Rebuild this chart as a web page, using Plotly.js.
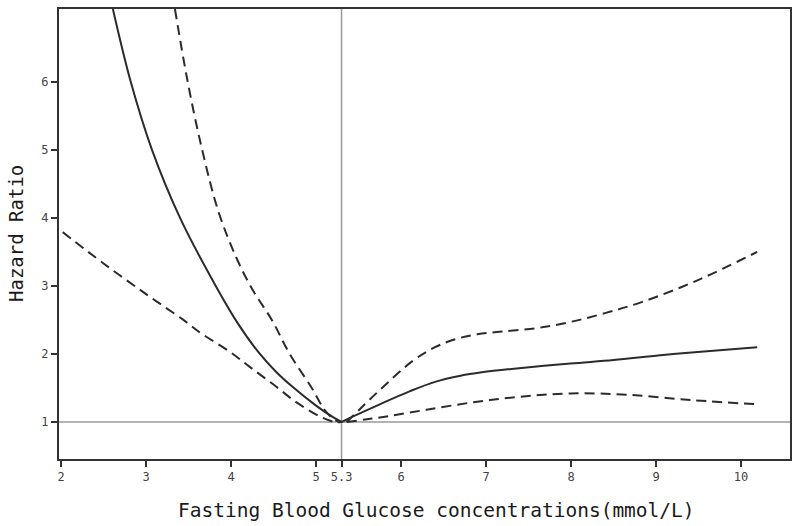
<!DOCTYPE html>
<html>
<head>
<meta charset="utf-8">
<script src="https://cdn.plot.ly/plotly-3.0.1.min.js"></script>
<style>html,body{margin:0;padding:0;background:#fff}#chart{width:800px;height:526px}</style>
</head>
<body>
<div id="chart"></div>
<script>
// Left branch (below reference 5.3)
const hrLeftX    = [2.61, 2.82, 3.07, 3.40, 3.82, 4.08, 4.32, 4.52, 4.72, 5.0, 5.2, 5.3];
const hrLeftY    = [7.07, 6.0, 5.0, 4.0, 3.0, 2.45, 2.03, 1.75, 1.52, 1.24, 1.07, 1.0];
const upLeftX    = [3.34, 3.49, 3.66, 3.85, 4.05, 4.25, 4.48, 4.69, 4.95, 5.1, 5.22, 5.3];
const upLeftY    = [7.07, 6.0, 5.0, 4.1, 3.45, 2.95, 2.5, 2.0, 1.5, 1.18, 1.03, 1.0];
const loLeftX    = [2.02, 2.5, 3.0, 3.44, 3.64, 4.0, 4.22, 4.5, 4.78, 5.08, 5.22, 5.3];
const loLeftY    = [3.79, 3.33, 2.88, 2.5, 2.31, 2.02, 1.81, 1.55, 1.28, 1.06, 1.0, 1.0];
// Right branch (above reference 5.3)
const hrRightX   = [5.3, 5.45, 5.75, 6.1, 6.4, 6.7, 6.95, 7.3, 7.99, 8.5, 9.05, 9.6, 10.19];
const hrRightY   = [1.0, 1.09, 1.26, 1.45, 1.59, 1.68, 1.73, 1.78, 1.86, 1.91, 1.98, 2.04, 2.1];
const upRightX   = [5.36, 5.5, 5.75, 6.14, 6.4, 6.65, 6.9, 7.2, 7.6, 7.99, 8.4, 8.85, 9.52, 10.19];
const upRightY   = [1.0, 1.17, 1.47, 1.9, 2.1, 2.22, 2.29, 2.33, 2.38, 2.47, 2.6, 2.77, 3.1, 3.5];
const loRightX   = [5.36, 5.6, 5.87, 6.3, 6.85, 7.4, 7.99, 8.66, 9.44, 10.19];
const loRightY   = [1.0, 1.04, 1.09, 1.18, 1.29, 1.37, 1.42, 1.40, 1.32, 1.26];
// Axes
const xTickVals  = [2, 3, 4, 5, 5.3, 6, 7, 8, 9, 10];
const xTickText  = ['2', '3', '4', '5', '5.3', '6', '7', '8', '9', '10'];
const yTickVals  = [1, 2, 3, 4, 5, 6];
const refX = 5.3, refY = 1;

const lineCol = '#2b2b2b';
const solid = {color: lineCol, width: 2, shape: 'spline', smoothing: 1};
const dashed = {color: lineCol, width: 2, dash: '10px,6px', shape: 'spline', smoothing: 1};

const traces = [
  {x: hrLeftX, y: hrLeftY, line: solid},
  {x: upLeftX, y: upLeftY, line: dashed},
  {x: loLeftX, y: loLeftY, line: dashed},
  {x: hrRightX, y: hrRightY, line: solid},
  {x: upRightX, y: upRightY, line: dashed},
  {x: loRightX, y: loRightY, line: dashed}
].map(t => Object.assign({type: 'scatter', mode: 'lines', hoverinfo: 'skip', showlegend: false}, t));

const mono = 'DejaVu Sans Mono, monospace';
const layout = {
  width: 800, height: 526,
  margin: {l: 59, r: 10, t: 9, b: 67},
  paper_bgcolor: '#fff', plot_bgcolor: '#fff',
  showlegend: false,
  xaxis: {
    range: [1.976, 10.576], tickvals: xTickVals, ticktext: xTickText,
    showgrid: false, zeroline: false, showline: true, mirror: true,
    linecolor: '#333', linewidth: 2, ticks: 'outside', ticklen: 6, tickwidth: 2, tickcolor: '#333',
    tickfont: {family: mono, size: 12, color: '#444'}
  },
  yaxis: {
    range: [0.456, 7.07], tickvals: yTickVals,
    showgrid: false, zeroline: false, showline: true, mirror: true,
    linecolor: '#333', linewidth: 2, ticks: 'outside', ticklen: 6, tickwidth: 2, tickcolor: '#333',
    tickfont: {family: mono, size: 12, color: '#444'}
  },
  shapes: [
    {type: 'line', xref: 'x', yref: 'paper', x0: refX, x1: refX, y0: 0, y1: 1, line: {color: '#9a9a9a', width: 1.5}, layer: 'below'},
    {type: 'line', xref: 'paper', yref: 'y', x0: 0, x1: 1, y0: refY, y1: refY, line: {color: '#9a9a9a', width: 1.5}, layer: 'below'}
  ],
  annotations: [
    {text: 'Fasting Blood Glucose concentrations(mmol/L)', xref: 'paper', yref: 'paper',
     x: 0.516, y: -0.1, xanchor: 'center', yanchor: 'middle', yshift: -6, showarrow: false,
     font: {family: mono, size: 19.5, color: '#1a1a1a'}},
    {text: 'Hazard Ratio', xref: 'paper', yref: 'paper', x: 0, y: 0.5, xshift: -43,
     xanchor: 'center', yanchor: 'middle', textangle: -90, showarrow: false,
     font: {family: mono, size: 19, color: '#1a1a1a'}}
  ]
};
Plotly.newPlot('chart', traces, layout, {staticPlot: true, displayModeBar: false});
</script>
</body>
</html>
